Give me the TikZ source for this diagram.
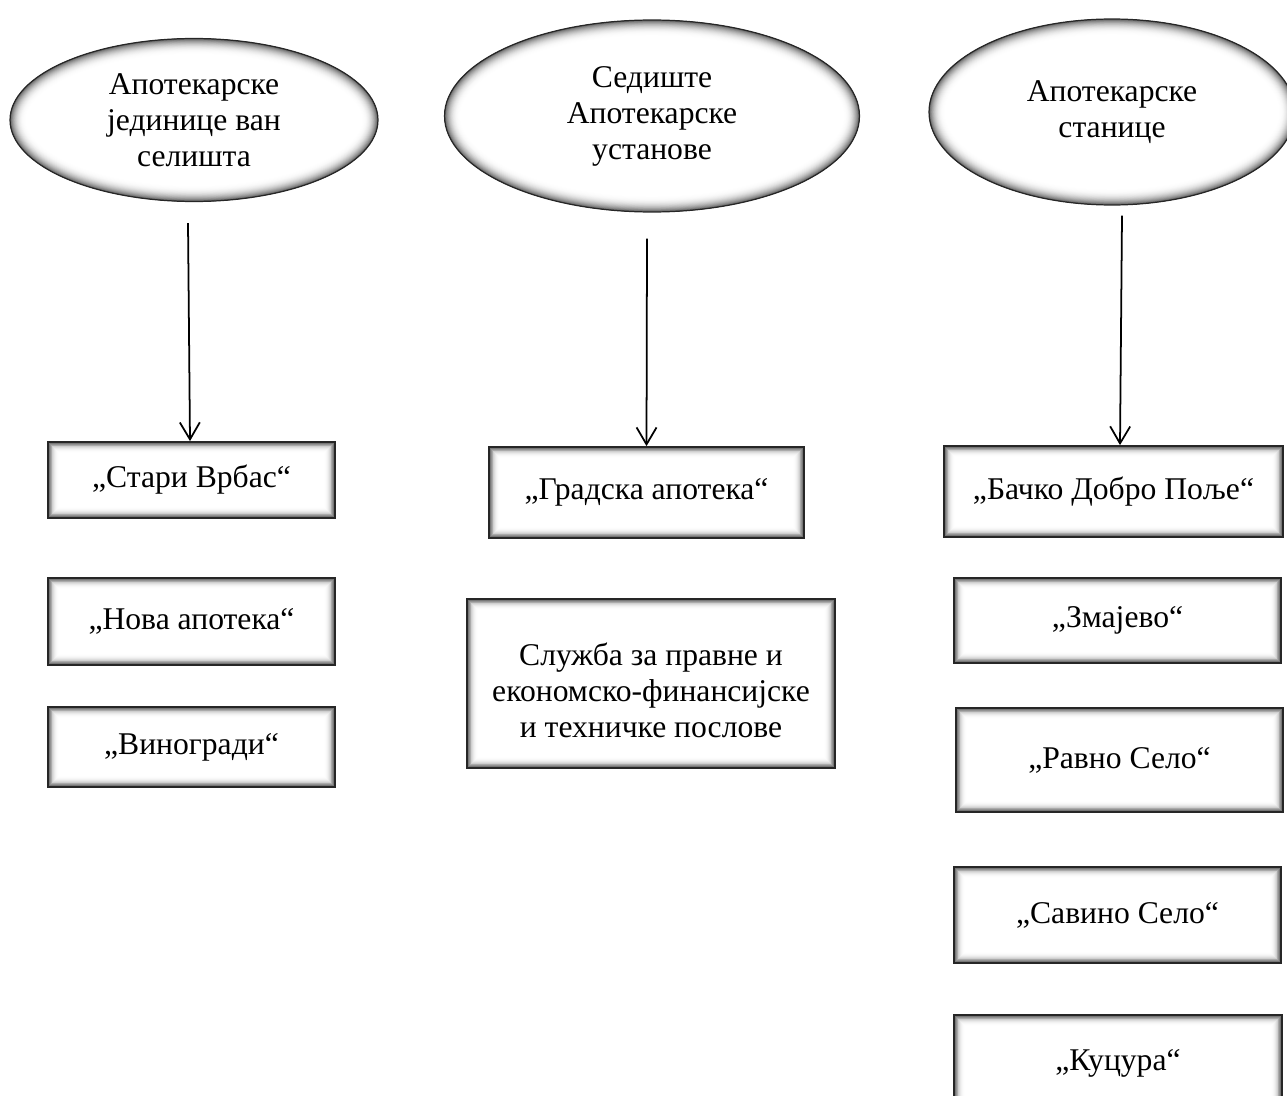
\documentclass[tikz,border=0pt]{standalone}
\usepackage{fontspec}
\setmainfont{Liberation Serif}
\usepackage{tikz}
\usetikzlibrary{positioning, arrows.meta, shapes.geometric, calc}

\newcommand{\unitfont}{\fontsize{18}{20.5}\selectfont}

\begin{document}
\begin{tikzpicture}[
    x=0.02cm, y=-0.02cm,
    unit base/.style={draw=black!85, fill=white, align=center, font=\unitfont, inner sep=0pt},
    unit oval/.style={ellipse, unit base, line width=0.7pt,
        path picture={
            \foreach \i [evaluate=\i as \c using 60*(\i/18)^2.5, evaluate=\i as \w using 19-\i] in {1,...,18}
                \draw[line width=\w pt, black!\c] let \p1=(path picture bounding box.north east), \p2=(path picture bounding box.center)
                    in (\p2) ellipse ({\x1-\x2} and {\y1-\y2});
        }},
    unit box/.style={rectangle, unit base, line width=1pt,
        path picture={
            \foreach \i [evaluate=\i as \c using 65*(\i/12)^2.3, evaluate=\i as \w using 13-\i] in {1,...,12}
                \draw[line width=\w pt, black!\c] (path picture bounding box.south west) rectangle (path picture bounding box.north east);
        }},
    arrow/.style={-{Straight Barb[length=3.4mm, width=4mm]}, line width=1pt}
]
\useasboundingbox (0,0) rectangle (1287,1095);

% three groups
\node[unit oval, minimum width=7.36cm, minimum height=3.26cm] (vanSedista) at (194,120) {Апотекарске\\јединице ван\\селишта};
\node[unit oval, minimum width=8.3cm, minimum height=3.84cm] (sediste) at (652,116) {Седиште\\Апотекарске\\установе};
\node[unit oval, minimum width=7.32cm, minimum height=3.72cm] (stanice) at (1112,112) {Апотекарске\\станице};

% units outside the seat
\node[unit box, minimum width=5.74cm, minimum height=1.52cm] (stariVrbas) at (191.5,480) {„Стари Врбас“};
\node[unit box, minimum width=5.74cm, minimum height=1.74cm] (novaApoteka) at (191.5,621.5) {„Нова апотека“};
\node[unit box, minimum width=5.74cm, minimum height=1.6cm] (vinogradi) at (191.5,747) {„Виногради“};

% seat
\node[unit box, minimum width=6.3cm, minimum height=1.82cm] (gradska) at (646.5,492.5) {„Градска апотека“};
\node[unit box, minimum width=7.36cm, minimum height=3.38cm] (sluzba) at (651,683.5) {\mbox{}\\Служба за правне и\\економско-финансијске\\и техничке послове};

% stations
\node[unit box, minimum width=6.78cm, minimum height=1.82cm] (dobroPolje) at (1113.5,491.5) {„Бачко Добро Поље“};
\node[unit box, minimum width=6.54cm, minimum height=1.7cm] (zmajevo) at (1117.5,620.5) {„Змајево“};
\node[unit box, minimum width=6.54cm, minimum height=2.08cm] (ravnoSelo) at (1119.5,760) {„Равно Село“};
\node[unit box, minimum width=6.54cm, minimum height=1.92cm] (savinoSelo) at (1117.5,915) {„Савино Село“};
\node[unit box, minimum width=6.56cm, minimum height=1.92cm] (kucura) at (1118,1063) {„Куцура“};

\draw[arrow] ([xshift=-0.12cm, yshift=-0.42cm]vanSedista.south) -- ([xshift=-0.03cm]stariVrbas.north);
\draw[arrow] ([xshift=-0.1cm, yshift=-0.52cm]sediste.south) -- (gradska.north);
\draw[arrow] ([xshift=0.2cm, yshift=-0.2cm]stanice.south) -- ([xshift=0.13cm]dobroPolje.north);

\end{tikzpicture}
\end{document}
